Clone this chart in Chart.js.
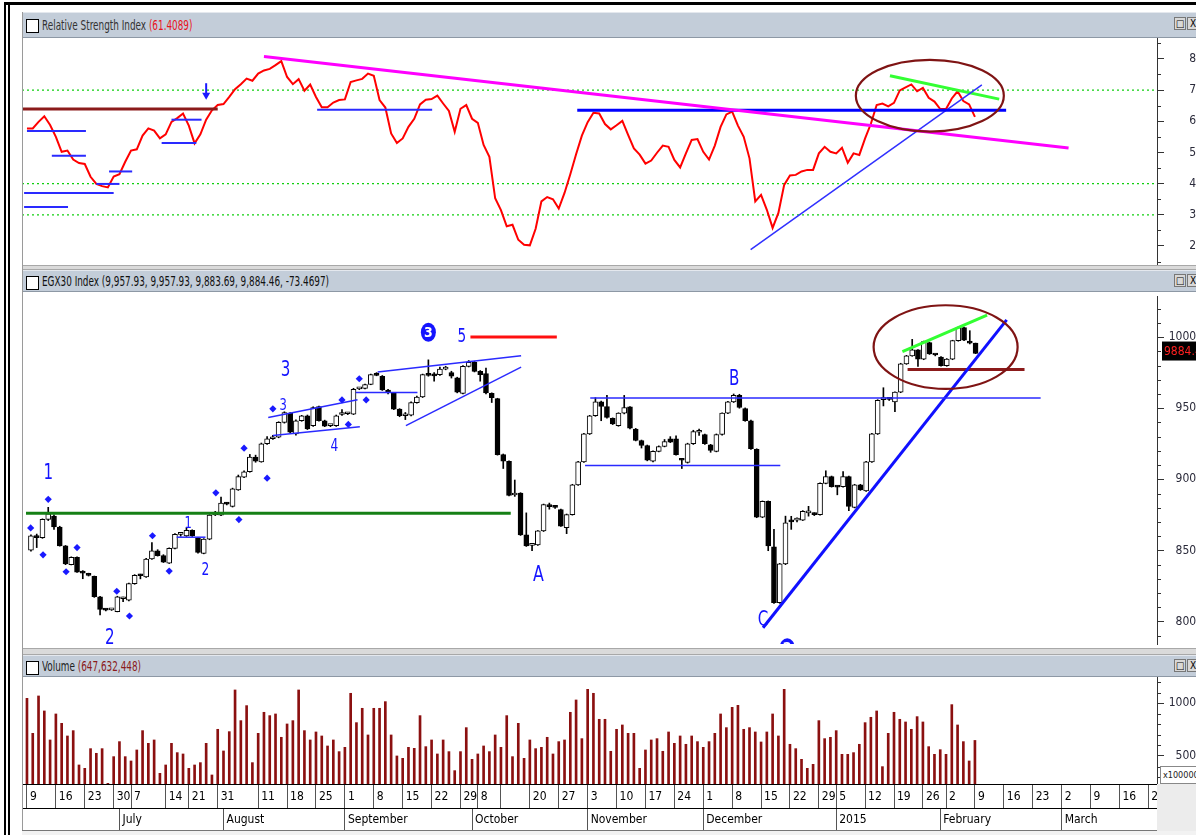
<!DOCTYPE html>
<html>
<head>
<meta charset="utf-8">
<script src="https://cdn.jsdelivr.net/npm/chart.js@4.4.1/dist/chart.umd.min.js"></script>
<style>
html,body{margin:0;padding:0;background:#fff;width:1196px;height:835px;overflow:hidden}
body{position:relative;font-family:'Liberation Sans Narrow','DejaVu Sans Condensed','Arial Narrow','Liberation Sans',sans-serif}
.blk{position:absolute;background:#000}
.hdr{position:absolute;left:22px;width:1174px;background:#c3cdd9;border-top:1px solid #e4e8ee;border-bottom:1px solid #8d98a5;box-sizing:border-box;font-size:13.5px;color:#333;white-space:nowrap}
.hdr .ico{position:absolute;left:4px;width:11px;height:12px;border:1px solid #000;background:#fff}
.hdr .t{position:absolute;left:20px;transform:scaleX(0.73);transform-origin:0 50%}
.hdr .btn{position:absolute;width:10px;height:11px;border:1px solid #777;background:#d8d8d8;font-size:10px;line-height:11px;text-align:center;color:#000}
.cv{position:absolute;left:22px;width:1181px}
.sep{position:absolute;left:22px;width:1174px;background:#dadada;border-top:1px solid #a8a8a8;border-bottom:1px solid #a8a8a8;box-sizing:border-box}
</style>
</head>
<body>
<div class="blk" style="left:4px;top:2px;width:1192px;height:3px"></div>
<div class="blk" style="left:4px;top:2px;width:2px;height:833px"></div>
<div class="blk" style="left:8px;top:2px;width:2px;height:833px"></div>

<div class="hdr" style="top:12px;height:26px"><span class="ico" style="top:6px"></span><span class="t" style="top:4px">Relative Strength Index <span style="color:#e8141c">(61.4089)</span></span><span class="btn" style="left:1152px;top:4px">&#9633;</span><span class="btn" style="left:1165px;top:4px">X</span></div>
<div class="cv" style="top:38px;height:227px"><canvas id="cRsi" width="1181" height="227"></canvas></div>
<div class="sep" style="top:265px;height:5px"></div>
<div class="hdr" style="top:270px;height:22px"><span class="ico" style="top:5px"></span><span class="t" style="top:2px;color:#111">EGX30 Index (9,957.93, 9,957.93, 9,883.69, 9,884.46, -73.4697)</span><span class="btn" style="left:1152px;top:3px">&#9633;</span><span class="btn" style="left:1165px;top:3px">X</span></div>
<div class="cv" style="top:292px;height:356px"><canvas id="cPx" width="1181" height="356"></canvas></div>
<div class="sep" style="top:648px;height:7px"></div>
<div class="hdr" style="top:655px;height:22px"><span class="ico" style="top:5px"></span><span class="t" style="top:2px;color:#222">Volume <span style="color:#8b1a1a">(647,632,448)</span></span><span class="btn" style="left:1152px;top:3px">&#9633;</span><span class="btn" style="left:1165px;top:3px">X</span></div>
<div class="cv" style="top:677px;height:153px"><canvas id="cVol" width="1181" height="153"></canvas></div>
<div style="position:absolute;left:1157px;top:784px;width:39px;height:51px;background:#ececec"></div>
<div style="position:absolute;left:1160px;top:766px;width:40px;height:16px;background:#fff;border:1px solid #888;font-size:9px;line-height:16px;padding-left:2px;color:#222">x100000</div>
<div style="position:absolute;left:22px;top:830px;width:1135px;height:1px;background:#777"></div>
<div style="position:absolute;left:22px;top:831px;width:1174px;height:4px;background:#f2f2f2"></div>
<div style="position:absolute;left:22px;top:12px;width:1px;height:818px;background:#9a9a9a"></div>

<script>
var FAM = "'Liberation Sans Narrow','DejaVu Sans Condensed','Arial Narrow','Liberation Sans',sans-serif";
Chart.defaults.font.family = FAM;

var XMIN = -0.86, XMAX = 195.5;

// date axis: bar index of each week / month start
var weekIdx = [0, 5, 10, 15, 18, 24, 28, 33, 40, 45, 50, 55, 60, 65, 70, 75, 78, 82, 87, 92, 97, 102, 107, 112, 117, 122, 127, 132, 137, 140, 145, 150, 155, 159, 164, 169, 174, 179, 184, 189, 194];
var weekLbl = ['9', '16', '23', '30', '7', '14', '21', '31', '11', '18', '25', '1', '8', '15', '22', '29', '8', '', '20', '27', '3', '10', '17', '24', '1', '8', '15', '22', '29', '5', '12', '19', '26', '2', '9', '16', '23', '2', '9', '16', '2'];
var monthIdx = [16, 34, 55, 77, 97, 117, 140, 158, 179];
var monthLbl = ['July', 'August', 'September', 'October', 'November', 'December', '2015', 'February', 'March'];

// EGX30 daily candles
var open = [8502,8602,8589,8718,8741,8665,8532,8400,8451,8350,8335,8317,8174,8086,8082,8070,8160,8150,8266,8325,
8313,8440,8498,8463,8410,8514,8613,8602,8641,8586,8479,8579,8750,8748,8830,8810,8926,9015,9053,9157,
9123,9250,9285,9296,9400,9465,9320,9412,9447,9377,9512,9412,9377,9377,9456,9461,9458,9636,9640,9667,
9736,9725,9628,9605,9493,9447,9451,9539,9579,9736,9731,9736,9775,9750,9713,9604,9794,9822,9759,9743,
9604,9567,9174,9127,8890,8903,8609,8535,8539,8637,8815,8808,8787,8660,8752,8961,9123,9319,9447,9544,
9512,9428,9377,9465,9509,9354,9273,9238,9127,9197,9231,9285,9285,9138,9118,9250,9331,9315,9243,9197,
9315,9465,9544,9590,9498,9412,9211,8734,8845,8525,8132,8405,8703,8713,8713,8764,8757,8752,8972,9019,
8950,8949,9019,8803,8961,8919,9123,9319,9560,9563,9544,9613,9812,9868,9910,9845,9961,9875,9859,9799,
9845,9975,10067,9965,9957.93];
var high = [8610,8615,8722,8803,8750,8670,8535,8455,8455,8358,8340,8320,8178,8090,8090,8178,8172,8270,8330,8333,
8445,8555,8505,8470,8518,8618,8625,8660,8645,8590,8583,8752,8775,8875,8838,8938,9030,9060,9175,9170,
9255,9300,9310,9405,9475,9470,9418,9450,9452,9510,9515,9416,9385,9452,9490,9470,9640,9645,9670,9740,
9750,9730,9632,9610,9497,9470,9545,9585,9740,9840,9750,9790,9795,9760,9718,9800,9835,9830,9765,9782,
9608,9570,9178,9130,8995,8906,8764,8545,8640,8826,8833,8812,8790,8756,8965,9127,9323,9450,9574,9550,
9590,9432,9468,9590,9512,9358,9276,9241,9200,9235,9280,9300,9305,9143,9254,9345,9354,9318,9246,9319,
9468,9548,9600,9598,9502,9416,9215,8848,8848,8648,8409,8741,8740,8730,8780,8810,8765,8976,9060,9023,
8955,9055,9023,8965,8965,9127,9323,9560,9644,9570,9616,9816,9872,9984,9913,9972,9965,9880,9863,9849,
9978,10071,10071,10045,9957.93];
var low = [8495,8520,8585,8710,8648,8530,8400,8398,8345,8301,8320,8170,8046,8075,8078,8068,8140,8145,8262,8300,
8310,8437,8460,8415,8408,8510,8600,8598,8598,8480,8476,8575,8745,8745,8820,8805,8922,9012,9050,9120,
9120,9245,9280,9292,9395,9328,9310,9408,9350,9372,9408,9370,9370,9372,9450,9455,9455,9630,9636,9665,
9728,9625,9600,9490,9440,9420,9445,9535,9575,9725,9690,9730,9770,9712,9608,9600,9790,9755,9690,9600,
9540,9170,9076,8883,8880,8605,8528,8498,8535,8633,8790,8795,8668,8618,8748,8957,9118,9315,9443,9412,
9430,9385,9373,9460,9355,9270,9220,9130,9123,9193,9228,9258,9170,9076,9114,9245,9308,9246,9190,9193,
9311,9461,9540,9500,9408,9211,8730,8730,8498,8128,8128,8400,8648,8700,8710,8741,8745,8748,8968,8945,
8891,8945,8780,8799,8922,8915,9118,9315,9516,9555,9475,9609,9808,9865,9794,9841,9878,9868,9795,9795,
9841,9971,9975,9952,9883.69];
var close = [8602,8590,8718,8757,8665,8532,8405,8451,8347,8340,8325,8174,8086,8080,8086,8174,8165,8266,8324,8322,
8440,8498,8463,8417,8514,8613,8616,8641,8602,8486,8579,8748,8755,8833,8826,8933,9019,9053,9157,9127,
9250,9285,9290,9400,9470,9331,9412,9447,9354,9505,9412,9373,9377,9447,9459,9465,9632,9640,9667,9736,
9731,9628,9614,9493,9447,9455,9539,9579,9736,9731,9727,9775,9778,9725,9613,9794,9822,9759,9736,9608,
9574,9174,9127,8887,8896,8609,8532,8540,8637,8822,8808,8803,8671,8752,8961,9123,9319,9447,9544,9512,
9435,9389,9465,9505,9359,9273,9238,9134,9197,9231,9266,9262,9174,9134,9250,9336,9334,9250,9204,9315,
9465,9544,9590,9505,9412,9215,8734,8845,8532,8132,8405,8694,8701,8716,8775,8764,8752,8972,9019,8949,
8945,9019,8810,8961,8926,9123,9319,9556,9565,9562,9613,9812,9868,9910,9845,9968,9882,9874,9799,9845,
9975,10067,9979,9958,9884.46];

// RSI(14)
var rsi = [57.7,57.7,59.8,61.6,58.8,55.0,50.2,50.6,47.7,46.6,46.3,42.2,39.9,39.2,38.8,42.3,43.0,47.0,50.6,51.0,
55.4,57.7,57.0,54.5,55.8,59.8,61.0,62.5,58.6,52.9,55.8,60.5,63.5,65.2,65.5,67.8,70.3,71.9,73.7,73.0,
75.3,76.3,76.8,78.0,79.3,74.2,71.9,73.5,69.8,71.8,67.8,64.5,64.5,66.0,66.8,67.0,72.6,73.1,73.6,75.3,
74.6,66.8,64.4,56.1,53.0,54.5,58.2,60.8,65.4,66.9,67.1,68.2,65.7,63.3,56.6,64.0,65.2,60.8,59.5,52.4,
48.6,35.3,31.5,26.3,26.8,22.0,20.4,20.2,25.5,34.3,35.7,35.0,32.0,37.0,43.0,49.4,55.4,59.7,62.7,62.5,
59.1,57.4,58.7,60.1,55.6,51.3,49.3,46.4,47.4,49.9,52.2,51.8,47.6,45.2,49.7,54.0,54.3,50.2,47.7,52.2,
58.2,62.2,63.1,58.6,55.0,48.1,34.3,36.4,31.6,25.8,30.6,39.6,42.6,42.8,43.9,44.4,44.4,49.7,51.8,50.2,
49.7,51.5,46.7,49.7,49.2,54.5,59.2,65.2,65.7,64.8,65.9,69.9,70.9,71.8,69.6,70.7,67.5,66.3,63.9,63.9,
67.3,69.6,66.5,65.4,61.4089];

// volume, x100000 shares
var volume = [10474,7153,10696,9273,6521,8988,8102,6900,7406,4148,
3832,5698,5256,5698,2409,4939,6363,4939,4528,5572,
7406,6204,6521,3358,4148,6204,5319,5192,3832,4148,
4370,6204,3199,7533,5477,7311,11265,8355,9779,4370,
7153,9146,8830,8988,6774,8039,8355,11265,7406,6521,
7280,6900,5951,6521,5414,5825,10949,8165,9526,6995,
9526,9526,10158,6995,5003,4781,5825,5730,8830,5888,
6521,5192,6521,5414,3611,5414,7691,4686,5192,5951,
5414,6995,5825,8830,4939,8102,4781,6521,5698,5825,
6774,5192,6363,6521,9146,10316,6647,11328,10949,8482,
8482,5446,7533,7944,7153,7153,3832,5572,6521,6647,
5446,7280,6204,6900,6110,6900,6363,5825,6363,7153,
8988,7691,9620,9810,7533,7691,7280,6331,7280,8988,
6900,11328,6110,5698,4686,3832,4212,8355,6647,6774,
7406,5161,5161,5319,6110,8165,8672,9273,3990,7153,
9146,8482,8229,7533,8735,8229,5888,5161,5600,5161,
9874,7944,6363,4528,6476];

var rsiLevels = [70, 40, 30];
var rsiTicks = [20, 30, 40, 50, 60, 70, 80];
var priceTicks = [8000, 8500, 9000, 9500, 10000];
var volTicks = [5000, 10000];

// drawn studies: [x1, y1, x2, y2] in bar index / value
var rsiStudy = [
  {p: [-0.86, 63.9, 33, 63.9], c: '#8b1a1a', w: 3},
  {p: [0, 56.9, 10.2, 56.9], c: '#2a2aff', w: 2},
  {p: [4.3, 48.9, 10.2, 48.9], c: '#2a2aff', w: 2},
  {p: [14.2, 43.9, 18.2, 43.9], c: '#2a2aff', w: 2},
  {p: [12.0, 39.9, 16.0, 39.9], c: '#2a2aff', w: 2},
  {p: [-0.5, 37.0, 15.0, 37.0], c: '#2a2aff', w: 2},
  {p: [-0.5, 32.5, 7.1, 32.5], c: '#2a2aff', w: 2},
  {p: [23.3, 53.0, 29.3, 53.0], c: '#2a2aff', w: 2},
  {p: [25.0, 60.5, 30.2, 60.5], c: '#2a2aff', w: 2},
  {p: [50.2, 63.7, 70.1, 63.7], c: '#2a2aff', w: 2},
  {p: [41.0, 80.8, 180.2, 51.4], c: '#ff00ff', w: 3},
  {p: [95.2, 63.5, 169.4, 63.5], c: '#0000ff', w: 3},
  {p: [125.2, 18.8, 165.2, 71.7], c: '#3030ff', w: 1.5},
  {p: [149.3, 74.6, 168.2, 67.1], c: '#33ff33', w: 3}
];
var priceStudy = [
  {p: [-0.86, 8761, 83.3, 8761], c: '#158015', w: 3},
  {p: [76.3, 10000, 91.3, 10000], c: '#ff1010', w: 3},
  {p: [41.2, 9434, 56.7, 9560], c: '#2a2aff', w: 1.5},
  {p: [42.0, 9308, 57.1, 9370], c: '#2a2aff', w: 1.5},
  {p: [60.2, 9755, 85.1, 9869], c: '#2a2aff', w: 1.5},
  {p: [65.1, 9377, 85.1, 9789], c: '#2a2aff', w: 1.5},
  {p: [56.4, 9610, 67.1, 9610], c: '#2a2aff', w: 1.5},
  {p: [25.3, 8593, 30.3, 8593], c: '#2a2aff', w: 1.5},
  {p: [97.1, 9571, 175.3, 9571], c: '#2a2aff', w: 1.5},
  {p: [96.2, 9098, 130.1, 9098], c: '#2a2aff', w: 1.5},
  {p: [127.1, 7956, 169.4, 10121], c: '#1010ff', w: 3},
  {p: [151.3, 9897, 166.0, 10155], c: '#33ff33', w: 3},
  {p: [152.2, 9773, 172.5, 9773], c: '#8b1a1a', w: 3}
];
var diamonds = [[-0.05, 8658], [2.1, 8469], [3.0, 8859], [6.1, 8350], [8.0, 8520], [14.9, 8213], [17.1, 8039],
  [21.1, 8603], [24.0, 8355], [32.1, 8905], [36.1, 8717], [37.0, 9219], [41.0, 9008], [42.0, 9496],
  [54.0, 9558], [55.1, 9386], [57.0, 9707], [58.2, 9558]];
var waveText = [
  {x: 3.0, y: 9038, t: '1', s: 21}, {x: 13.7, y: 7878, t: '2', s: 21},
  {x: 27.3, y: 8685, t: '1', s: 16}, {x: 30.3, y: 8357, t: '2', s: 17},
  {x: 44.2, y: 9764, t: '3', s: 21}, {x: 43.8, y: 9514, t: '3', s: 16},
  {x: 52.7, y: 9232, t: '4', s: 17}, {x: 74.8, y: 10002, t: '5', s: 19},
  {x: 88.1, y: 8323, t: 'A', s: 22}, {x: 122.1, y: 9704, t: 'B', s: 21},
  {x: 127.1, y: 8009, t: 'C', s: 21}
];
var waveBadge = [{x: 69.0, y: 10034, t: '3'}, {x: 131.3, y: 7815, t: '2'}];

function lineSets(list) {
  return list.map(function (l) {
    return {type: 'line', data: [{x: l.p[0], y: l.p[1]}, {x: l.p[2], y: l.p[3]}],
      borderColor: l.c, borderWidth: l.w, pointRadius: 0, tension: 0, fill: false, order: 0};
  });
}

function minorEvery(a, b, step, major) {
  var out = [];
  for (var v = a; v <= b; v += step) if (v % major !== 0) out.push(v);
  return out;
}

function overlay(id, o) {
  return {
    id: id,
    afterDatasetsDraw: function (chart) {
      var ctx = chart.ctx, a = chart.chartArea, xs = chart.scales.x, ys = chart.scales.y;
      ctx.save();
      ctx.beginPath(); ctx.rect(a.left, a.top, a.right - a.left, a.bottom - a.top); ctx.clip();
      (o.ellipses || []).forEach(function (e) {
        var cx = xs.getPixelForValue(e.x), cy = ys.getPixelForValue(e.y);
        var rx = Math.abs(xs.getPixelForValue(e.x + e.rx) - cx), ry = Math.abs(ys.getPixelForValue(e.y + e.ry) - cy);
        ctx.beginPath(); ctx.ellipse(cx, cy, rx, ry, 0, 0, Math.PI * 2);
        ctx.strokeStyle = '#7f1414'; ctx.lineWidth = 2.2; ctx.stroke();
      });
      (o.badges || []).forEach(function (b) {
        var cx = xs.getPixelForValue(b.x), cy = ys.getPixelForValue(b.y);
        ctx.beginPath(); ctx.ellipse(cx, cy, 7.5, 9.5, 0, 0, Math.PI * 2);
        ctx.fillStyle = '#1414ff'; ctx.fill();
        ctx.fillStyle = '#fff'; ctx.font = 'bold 14px ' + FAM; ctx.textAlign = 'center'; ctx.textBaseline = 'middle';
        ctx.fillText(b.t, cx, cy + 1);
      });
      (o.texts || []).forEach(function (t) {
        var px = xs.getPixelForValue(t.x), py = ys.getPixelForValue(t.y);
        ctx.save();
        ctx.translate(px, py); ctx.scale(0.8, 1);
        ctx.fillStyle = '#1414ff'; ctx.font = t.s + 'px ' + FAM; ctx.textAlign = 'center'; ctx.textBaseline = 'middle';
        ctx.fillText(t.t, 0, 0);
        ctx.restore();
      });
      (o.arrows || []).forEach(function (r) {
        var x = xs.getPixelForValue(r.x), y1 = ys.getPixelForValue(r.y1), y2 = ys.getPixelForValue(r.y2);
        ctx.strokeStyle = '#1a1aff'; ctx.fillStyle = '#1a1aff'; ctx.lineWidth = 2;
        ctx.beginPath(); ctx.moveTo(x, y1); ctx.lineTo(x, y2 - 5); ctx.stroke();
        ctx.beginPath(); ctx.moveTo(x - 4, y2 - 7); ctx.lineTo(x + 4, y2 - 7); ctx.lineTo(x, y2); ctx.closePath(); ctx.fill();
      });
      ctx.restore();
    },
    afterDraw: function (chart) {
      var ctx = chart.ctx, ys = chart.scales.y;
      ctx.save();
      ctx.strokeStyle = '#333'; ctx.lineWidth = 1;
      (o.minor || []).forEach(function (v) {
        var y = Math.round(ys.getPixelForValue(v)) + 0.5;
        ctx.beginPath(); ctx.moveTo(ys.left, y); ctx.lineTo(ys.left + 4, y); ctx.stroke();
      });
      if (o.last) {
        var y0 = ys.getPixelForValue(o.last);
        ctx.fillStyle = '#000'; ctx.fillRect(ys.left + 5, y0 - 12, 50, 19);
        ctx.fillStyle = '#ff2020'; ctx.font = '12px ' + FAM; ctx.textAlign = 'left'; ctx.textBaseline = 'middle';
        ctx.fillText(o.last.toFixed(2), ys.left + 7, y0 - 2);
      }
      ctx.restore();
    }
  };
}

function noPad(s) { s.paddingTop = 0; s.paddingBottom = 0; s.paddingLeft = 0; s.paddingRight = 0; }
function hiddenX() {
  return {type: 'linear', min: XMIN, max: XMAX, display: false, offset: false, grid: {offset: false}};
}
function rightY(min, max, ticks) {
  return {
    type: 'linear', position: 'right', min: min, max: max, beginAtZero: false,
    afterBuildTicks: function (s) { s.ticks = ticks.map(function (v) { return {value: v}; }); },
    afterFit: function (s) { s.width = 46; noPad(s); },
    grid: {drawOnChartArea: false, drawTicks: true, tickLength: 7, tickColor: '#333', color: '#333'},
    border: {display: true, color: '#333', width: 1},
    ticks: {crossAlign: 'far', padding: 2, color: '#2a2a3a', font: {size: 12},
      callback: function (v) { return String(v); }}
  };
}
var common = {responsive: false, animation: false, events: [],
  plugins: {legend: {display: false}, tooltip: {enabled: false}}, layout: {padding: 0}};

// RSI panel
new Chart(document.getElementById('cRsi'), {
  type: 'line',
  data: {datasets: lineSets(rsiStudy).concat(rsiLevels.map(function (v) {
    return {type: 'line', data: [{x: XMIN, y: v}, {x: XMAX, y: v}], borderColor: '#10d010', borderWidth: 1.3,
      borderDash: [2, 3], pointRadius: 0, order: 3};
  })).concat([{
    data: rsi.map(function (v, i) { return {x: i, y: v}; }),
    borderColor: '#ff0000', borderWidth: 2, pointRadius: 0, tension: 0, fill: false, order: 1
  }])},
  options: Object.assign({}, common, {
    scales: {x: hiddenX(), y: rightY(13.9, 86.7, rsiTicks)}
  }),
  plugins: [overlay('rsiMarks', {
    ellipses: [{x: 156.2, y: 68.2, rx: 12.8, ry: 11.5}],
    arrows: [{x: 31.0, y1: 72.2, y2: 66.9}],
    minor: [15, 25, 35, 45, 55, 65, 75, 85]
  })]
});

// price panel
new Chart(document.getElementById('cPx'), {
  type: 'bar',
  data: {datasets: [
    {type: 'bar', data: close.map(function (c, i) { return {x: i, y: [low[i], high[i]]}; }),
      backgroundColor: '#000', barThickness: 1, grouped: false, order: 3},
    {type: 'bar', data: close.map(function (c, i) { return {x: i, y: [open[i], c]}; }),
      backgroundColor: close.map(function (c, i) { return c >= open[i] ? '#fff' : '#000'; }),
      borderColor: '#000', borderWidth: 1, borderSkipped: false, barThickness: 5, minBarLength: 2,
      grouped: false, order: 2},
    {type: 'line', data: diamonds.map(function (d) { return {x: d[0], y: d[1]}; }), showLine: false,
      pointStyle: 'rectRot', pointRadius: 3.6, pointBackgroundColor: '#1a1aff', pointBorderWidth: 0, order: 0}
  ].concat(lineSets(priceStudy))},
  options: Object.assign({}, common, {
    scales: {x: hiddenX(), y: rightY(7842, 10289, priceTicks)}
  }),
  plugins: [overlay('pxMarks', {
    ellipses: [{x: 158.8, y: 9930, rx: 12.5, ry: 294}],
    texts: waveText, badges: waveBadge,
    minor: minorEvery(7900, 10200, 100, 500),
    last: close[close.length - 1]
  })]
});

// volume panel + date band
function dateAxis(idx, lbl, h, weight, pad) {
  return {
    type: 'linear', position: 'bottom', min: XMIN, max: XMAX, offset: false, weight: weight,
    afterBuildTicks: function (s) { s.ticks = idx.map(function (v) { return {value: v}; }); },
    afterFit: function (s) { s.height = h; noPad(s); },
    grid: {display: true, drawOnChartArea: false, drawTicks: true, tickLength: h, color: '#555', offset: false},
    border: {display: true, color: '#000', width: 1},
    ticks: {autoSkip: false, maxRotation: 0, minRotation: 0, align: 'start', labelOffset: 3, padding: pad,
      color: '#000', font: {size: 12}, callback: function (v, i) { return lbl[i]; }}
  };
}
new Chart(document.getElementById('cVol'), {
  type: 'bar',
  data: {datasets: [{data: volume.map(function (v, i) { return {x: i, y: v}; }),
    backgroundColor: '#8b1010', barThickness: 2, grouped: false}]},
  options: Object.assign({}, common, {
    scales: {
      x: dateAxis(weekIdx, weekLbl, 24, 0, -18),
      x2: dateAxis(monthIdx, monthLbl, 22, 1, -17),
      y: rightY(2343, 12495, volTicks)
    }
  }),
  plugins: [overlay('volMarks', {minor: [3000, 4000, 6000, 7000, 8000, 9000, 11000, 12000]})]
});
</script>
</body>
</html>
